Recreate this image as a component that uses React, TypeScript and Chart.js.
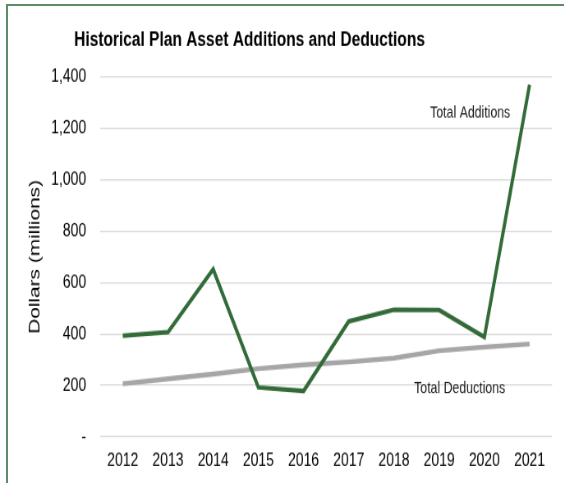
import React, { useEffect, useRef } from "react";
import { Chart, registerables } from "chart.js";

Chart.register(...registerables);

const years = ["2012", "2013", "2014", "2015", "2016", "2017", "2018", "2019", "2020", "2021"];
const totalAdditions = [393, 407, 652, 192, 178, 449, 494, 493, 388, 1370];
const totalDeductions = [206, 225, 244, 265, 280, 291, 306, 335, 349, 361];
const yTickValues = [0, 200, 400, 600, 800, 1000, 1200, 1400];

const TITLE = "Historical Plan Asset Additions and Deductions";
const Y_TITLE = "Dollars (millions)";
const SX = 0.82; // horizontal condensing of the reference (narrow type)
const SY = 1.12; // vertical stretch of the reference
const W = 564 / SX;
const H = 483 / SY;

const SANS = "'Liberation Sans', Arial, sans-serif";

const textPlugin = {
  id: "texts",
  afterDraw(chart: any) {
    const ctx = chart.ctx;
    ctx.save();
    ctx.fillStyle = "#000000";
    ctx.font = `bold 18.9px ${SANS}`;
    ctx.textAlign = "left";
    ctx.textBaseline = "alphabetic";
    ctx.fillText(TITLE, 74 / SX, 41);

    ctx.font = `15px ${SANS}`;
    ctx.fillStyle = "#1a1a1a";
    ctx.textAlign = "center";
    ctx.textBaseline = "middle";
    ctx.fillText("Total Additions", 469.5 / SX, 100.9);
    ctx.fillText("Total Deductions", 459 / SX, 347.3);
    ctx.restore();
  },
};

export default function App() {
  const ref = useRef<HTMLCanvasElement | null>(null);
  useEffect(() => {
    if (!ref.current) return;
    const chart = new Chart(ref.current, {
      type: "line",
      data: {
        labels: years,
        datasets: [
          {
            label: "Total Additions",
            data: totalAdditions,
            borderColor: "#326b38",
            borderWidth: 4,
            pointRadius: 0,
            tension: 0,
            fill: false,
          },
          {
            label: "Total Deductions",
            data: totalDeductions,
            borderColor: "#a6a6a6",
            borderWidth: 4.4,
            pointRadius: 0,
            tension: 0,
            fill: false,
          },
        ],
      },
      options: {
        responsive: false,
        animation: false,
        devicePixelRatio: 1,
        layout: { padding: { top: 77 / SY, right: 12 / SX, bottom: 0, left: 0 } },
        plugins: {
          legend: { display: false },
          title: { display: false },
          tooltip: { enabled: false },
        },
        scales: {
          x: {
            offset: true,
            grid: { display: false, drawTicks: false },
            border: { display: false },
            ticks: {
              padding: 11.2,
              color: "#000000",
              font: { family: SANS, size: 17 },
              maxRotation: 0,
              autoSkip: false,
            },
            afterFit: (s: any) => {
              s.height = H - 437 / SY;
            },
          },
          y: {
            min: 0,
            max: 1400,
            afterBuildTicks: (s: any) => {
              s.ticks = yTickValues.map((v) => ({ value: v }));
            },
            grid: { color: "#d9d9d9", lineWidth: 1.2, drawTicks: false },
            border: { display: false },
            ticks: {
              padding: 14 / SX,
              color: "#000000",
              font: { family: SANS, size: 17 },
              callback: (v: any) => (Number(v) === 0 ? "-" : Number(v).toLocaleString("en-US")),
            },
            title: {
              display: true,
              text: Y_TITLE,
              color: "#000000",
              font: { family: SANS, size: 18.6 },
              padding: { top: 35 / SX - 18.6 * 0.6, bottom: 0 },
            },
            afterFit: (s: any) => {
              s.width = 100 / SX;
            },
          },
        },
      },
      plugins: [textPlugin],
    });
    return () => chart.destroy();
  }, []);

  return (
    <div style={{ position: "fixed", left: 0, top: 0, width: 564, height: 483, background: "#fff", overflow: "hidden" }}>
      <div
        style={{
          position: "absolute",
          left: 6,
          top: 4,
          width: 600,
          height: 600,
          borderLeft: "2px solid #5e8c66",
          borderTop: "2px solid #5e8c66",
          boxSizing: "border-box",
        }}
      />
      <div style={{ position: "absolute", left: 0, top: 0, transformOrigin: "0 0", transform: `scale(${SX}, ${SY})` }}>
        <canvas ref={ref} width={W} height={H} style={{ display: "block", width: W, height: H }} />
      </div>
    </div>
  );
}
